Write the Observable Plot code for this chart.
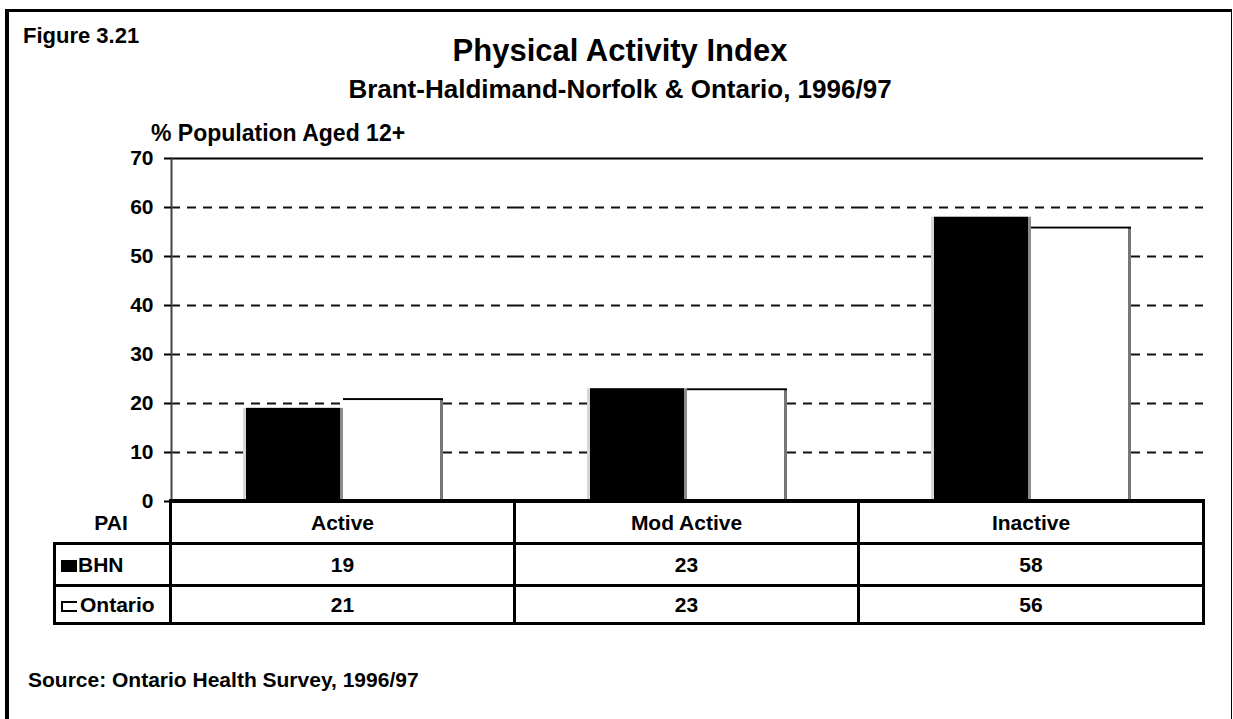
<!DOCTYPE html>
<html>
<head>
<meta charset="utf-8">
<script src="https://cdn.jsdelivr.net/npm/d3@7"></script>
<script src="https://cdn.jsdelivr.net/npm/@observablehq/plot@0.6"></script>
<style>
  html, body { margin: 0; padding: 0; background: #fff; }
  #fig { position: relative; width: 1233px; height: 719px; overflow: hidden; background: #fff;
         font-family: "Liberation Sans", Arial, sans-serif; font-weight: bold; color: #000; }
  .frame { position: absolute; left: 5px; top: 9px; width: 1227px; height: 800px; box-sizing: border-box;
           border-top: 3px solid #000; border-left: 4px solid #000; border-right: 1px solid #000; }
  .txt { position: absolute; line-height: 1; white-space: nowrap; }
  #chart { position: absolute; left: 0; top: 0; width: 1233px; }
  #chart svg { overflow: visible; }
  #tbl { position: absolute; left: 53px; top: 499px; display: grid;
         grid-template-columns: 119px 344px 344px 345px; grid-template-rows: 46px 42px 38px; }
  #tbl .c { box-sizing: border-box; border-right: 3px solid #000; border-bottom: 3px solid #000;
            display: flex; align-items: center; justify-content: center; font-size: 21px; line-height: 1; }
  #tbl .hd { border-top: 3px solid #000; }
  #tbl .lab { border-left: 3px solid #000; justify-content: flex-start; padding-left: 5px; }
  #tbl .pai { padding-top: 3px; }
  .sw { display: inline-block; box-sizing: border-box; width: 16px; height: 12px; margin-top: 3px; }
  .sw.bhn { background: #000; margin-right: 1px; }
  .sw.ont { height: 11px; border: 2px solid #000; border-right: none; margin-right: 3px; margin-top: 4px; }
</style>
</head>
<body>
<div id="fig">
  <div class="frame"></div>
  <div id="chart"></div>
  <div id="tbl"></div>
</div>
<script>
// ---- data ----
const figureLabel = "Figure 3.21";
const titleText = "Physical Activity Index";
const subtitleText = "Brant-Haldimand-Norfolk & Ontario, 1996/97";
const yAxisLabel = "% Population Aged 12+";
const sourceText = "Source: Ontario Health Survey, 1996/97";
const tableHeader = "PAI";
const categories = ["Active", "Mod Active", "Inactive"];
const seriesNames = ["BHN", "Ontario"];
const bhnValues = [19, 23, 58];
const ontarioValues = [21, 23, 56];
const yTicks = [0, 10, 20, 30, 40, 50, 60, 70];

// ---- build ----
const fig = document.getElementById("fig");
function addText(str, css) {
  const d = document.createElement("div");
  d.className = "txt";
  d.textContent = str;
  Object.assign(d.style, css);
  fig.appendChild(d);
  return d;
}
addText(figureLabel, {left: "23px", top: "25px", fontSize: "22px"});
addText(titleText, {left: "120px", width: "1000px", textAlign: "center", top: "35px", fontSize: "31px"});
addText(subtitleText, {left: "120px", width: "1000px", textAlign: "center", top: "76px", fontSize: "26px"});
addText(yAxisLabel, {left: "151px", top: "122px", fontSize: "23px"});
addText(sourceText, {left: "28px", top: "669px", fontSize: "21px"});

const bhnData = categories.map((c, i) => ({category: c, series: seriesNames[0], value: bhnValues[i]}));
const ontData = categories.map((c, i) => ({category: c, series: seriesNames[1], value: ontarioValues[i]}));
const gridVals = yTicks.filter(v => v > 0 && v < d3.max(yTicks));
const enc = {fx: "category", x: "series", y: "value"};

const chart = Plot.plot({
  width: 1233, height: 503,
  marginLeft: 170, marginRight: 30, marginTop: 158, marginBottom: 2,
  style: {fontFamily: "'Liberation Sans', Arial, sans-serif", fontSize: "21px", fontWeight: "bold", color: "#000", background: "transparent", overflow: "visible"},
  fx: {domain: categories, padding: 0, axis: null, label: null},
  x: {domain: seriesNames, paddingInner: 0, paddingOuter: 0.72, axis: null, label: null},
  y: {domain: [0, d3.max(yTicks)], axis: null, label: null},
  marks: [
    Plot.ruleY(gridVals, {stroke: "#111", strokeWidth: 2, strokeDasharray: "9,7"}),
    Plot.ruleY([d3.max(yTicks)], {stroke: "#000", strokeWidth: 2}),
    Plot.barY(bhnData, {...enc, fill: "#d6d6d6"}),
    Plot.barY(bhnData, {...enc, fill: "#8c8c8c", insetLeft: 3}),
    Plot.barY(bhnData, {...enc, fill: "#000", insetLeft: 3, insetRight: 3}),
    Plot.barY(ontData, {...enc, fill: "#000"}),
    Plot.barY(ontData, {...enc, fill: "#777", insetTop: 2}),
    Plot.barY(ontData, {...enc, fill: "#fff", insetTop: 2, insetRight: 3}),
    Plot.ruleY([0], {stroke: "#000", strokeWidth: 3}),
    Plot.frame({anchor: "left", facetAnchor: "left", stroke: "#444", strokeWidth: 2}),
    Plot.axisY(yTicks, {label: null, tickSize: 7, tickPadding: 11, strokeWidth: 2, tickFormat: d => String(d), facetAnchor: "left"})
  ]
});
document.getElementById("chart").appendChild(chart);

// ---- data table ----
const tbl = document.getElementById("tbl");
function cell(cls, html) {
  const d = document.createElement("div");
  d.className = "c " + cls;
  d.innerHTML = html;
  tbl.appendChild(d);
}
cell("pai", tableHeader);
categories.forEach(c => cell("hd", c));
cell("lab", `<span class="sw bhn"></span>${seriesNames[0]}`);
bhnValues.forEach(v => cell("", String(v)));
cell("lab", `<span class="sw ont"></span>${seriesNames[1]}`);
ontarioValues.forEach(v => cell("", String(v)));
</script>
</body>
</html>
